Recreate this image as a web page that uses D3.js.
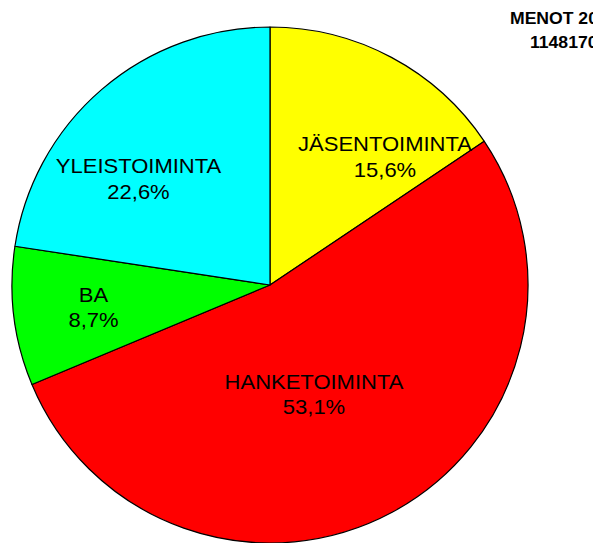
<!DOCTYPE html>
<html>
<head>
<meta charset="utf-8">
<script src="https://cdn.jsdelivr.net/npm/d3@7/dist/d3.min.js"></script>
<style>
html,body{margin:0;padding:0;background:#fff;}
svg{display:block;}
</style>
</head>
<body>
<script>
// Data
const categories = ["JÄSENTOIMINTA", "HANKETOIMINTA", "BA", "YLEISTOIMINTA"];
const values = [15.6, 53.1, 8.7, 22.6];
const valueLabels = ["15,6%", "53,1%", "8,7%", "22,6%"];
const colors = ["#FFFF00", "#FF0000", "#00FF00", "#00FFFF"];
const titleLines = ["MENOT 2007", "1148170 €"];

// Layout (label block offsets from pie centre)
const labelOffsets = [[115, -134], [44, 103.5], [-176.5, 16.5], [-131.5, -112]];

const W = 598, H = 543;
const cx = 270, cy = 285, R = 258;
const stretch = 1.1;

const svg = d3.select("body").append("svg").attr("width", W).attr("height", H);

const pie = d3.pie().sort(null).value(d => d)(values);
const arc = d3.arc().innerRadius(0).outerRadius(R);

const g = svg.append("g").attr("transform", `translate(${cx},${cy})`);
g.selectAll("path.slice").data(pie).enter().append("path")
  .attr("class", "slice")
  .attr("d", arc)
  .attr("fill", (d, i) => colors[i])
  .attr("stroke", "#000")
  .attr("stroke-width", 1.2)
  .attr("stroke-linejoin", "round");

const lab = g.selectAll("text.lab").data(pie).enter().append("text")
  .attr("class", "lab")
  .attr("text-anchor", "middle")
  .attr("font-family", "Arial, 'Liberation Sans', sans-serif")
  .attr("font-size", 20)
  .attr("fill", "#000")
  .attr("transform", (d, i) => `translate(${labelOffsets[i][0]},${labelOffsets[i][1]}) scale(${stretch},1)`);
lab.append("tspan").attr("x", 0).attr("y", 0).text((d, i) => categories[i]);
lab.append("tspan").attr("x", 0).attr("y", 26).text((d, i) => valueLabels[i]);

// Title (clipped at right edge like reference)
svg.append("defs").append("clipPath").attr("id", "clipT")
  .append("rect").attr("x", 0).attr("y", 0).attr("width", 593).attr("height", H);
const tg = svg.append("g").attr("clip-path", "url(#clipT)");
tg.append("text").attr("transform", `translate(510,24) scale(${stretch},1)`)
  .attr("font-family", "Arial, 'Liberation Sans', sans-serif")
  .attr("font-weight", "bold").attr("font-size", 16).text(titleLines[0]);
tg.append("text").attr("transform", `translate(530,48) scale(${stretch},1)`)
  .attr("font-family", "Arial, 'Liberation Sans', sans-serif")
  .attr("font-weight", "bold").attr("font-size", 16).text(titleLines[1]);
</script>
</body>
</html>
